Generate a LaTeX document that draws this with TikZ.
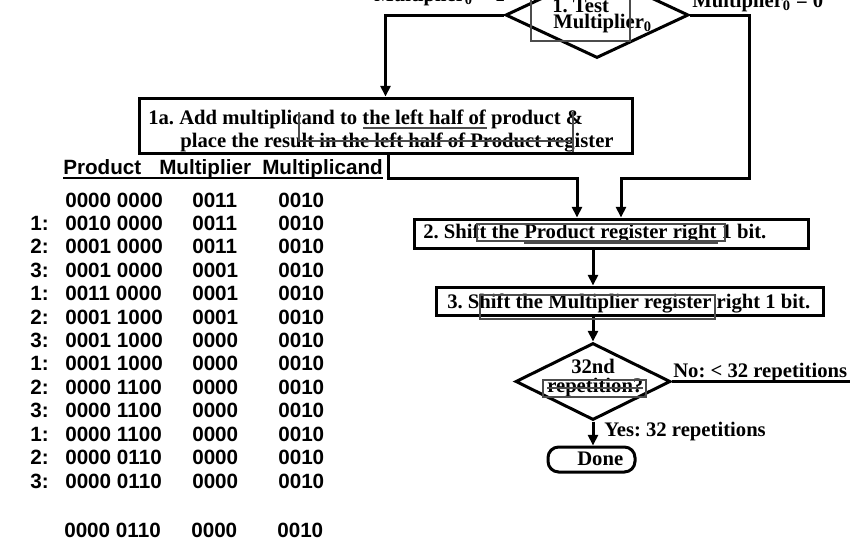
\documentclass[tikz,border=0pt]{standalone}
\usepackage{fontspec}
\setmainfont{Liberation Serif}
\setsansfont{Liberation Sans}
\usetikzlibrary{shapes.geometric,arrows.meta,calc}
\newdimen\pxu \pxu=0.75pt
\frenchspacing

\begin{document}
\begin{tikzpicture}[x=0.75pt,y=-0.75pt,
  flow/.style={line width=2.25pt},
  arr/.style={flow,-{Triangle[length=8pt,width=7.5pt]}},
  stepbox/.style={draw,line width=2.25pt,inner sep=0pt},
  decision/.style={draw,diamond,line width=2.25pt,inner sep=0pt},
  lbl/.style={font=\fontsize{15.5}{18}\selectfont\bfseries,inner sep=0pt,anchor=base west},
  tbl/.style={font=\fontsize{15.5}{18}\selectfont\sffamily\bfseries,inner sep=0pt,anchor=base west},
  ghost/.style={line width=0.8pt,black!70}
]
\useasboundingbox (0,0) rectangle (850,540);
\clip (0,0) rectangle (850,540);

% ---- step 1: test ----
\node[decision,minimum width=183\pxu,minimum height=86\pxu] (test) at (597,15) {};
\node[lbl] (testa) at (552,12) {1. Test};
\node[lbl] (testb) at (553,28) {Multiplier\textsubscript{0}};
\node[lbl] (one) at (374,1) {Multiplier\textsubscript{0} = 1};
\node[lbl] (zero) at (692,7) {Multiplier\textsubscript{0} = 0};

% ---- step 1a ----
\node[stepbox,minimum width=493\pxu,minimum height=55\pxu] (addbox) at (385.5,125.5) {};
\node[lbl] (adda) at (148,124) {1a. Add multiplicand to the left half of product \&};
\node[lbl] (addb) at (180,147) {place the result in the left half of Product register};

% ---- steps 2 and 3 ----
\node[stepbox,minimum width=394\pxu,minimum height=29\pxu] (shiftp) at (611,233.5) {};
\node[lbl] (shiftpt) at (423,238) {2. Shift the Product register right 1 bit.};
\node[stepbox,minimum width=387\pxu,minimum height=28\pxu] (shiftm) at (629.5,301) {};
\node[lbl] (shiftmt) at (447,308) {3. Shift the Multiplier register right 1 bit.};

% ---- repetition test ----
\node[decision,minimum width=155\pxu,minimum height=77\pxu] (rep) at (593,381.5) {};
\node[lbl] (repa) at (571,373) {32nd};
\node[lbl] (repb) at (547,392) {repetition?};
\node[lbl] (no) at (673,377) {No: < 32 repetitions};
\node[lbl] (yes) at (604,436) {Yes: 32 repetitions};

% ---- done ----
\node[stepbox,rounded corners=8pt,minimum width=87\pxu,minimum height=25\pxu] (done) at (591.5,459.5) {};
\node[lbl] (donet) at (577,465) {Done};

% ---- connectors ----
\coordinate (ljoin) at (577,178);
\coordinate (rturn) at (749,178);
\coordinate (rjoin) at (621,178);
\coordinate (noend) at (852,381.5);
\draw[arr] (test.west) -| (addbox.north);
\draw[arr] ($(addbox.south)+(2.5,0)$) |- (ljoin) -- (ljoin |- shiftp.north);
\draw[arr] (test.east) -| (rturn) -- (rjoin) -- (rjoin |- shiftp.north);
\draw[arr] (shiftp.south -| rep.north) -- (shiftm.north -| rep.north);
\draw[arr] (shiftm.south -| rep.north) -- (rep.north);
\draw[flow] (rep.east) -- (noend);
\draw[arr] (rep.south) -- (rep.south |- done.north);

% ---- text frame remnants ----
\draw[ghost] (531,-1) rectangle (630,41);
\draw[ghost] (299,112) -- (299,141) -- (573,141) (573,112) -- (573,152);
\draw[ghost] (363,128) -- (487,128);
\draw[ghost] (477,224) rectangle (725,241) (524,243) -- (718,243);
\draw[ghost] (480,295) rectangle (715,319);
\draw[ghost] (543,380) rectangle (646,397) (547,388) -- (643,388);

% ---- trace table ----
\node[tbl] (hP) at (63,174) {Product};
\node[tbl] (hM) at (159,174) {Multiplier};
\node[tbl] (hC) at (262,174) {Multiplicand};
\draw[line width=1.1pt] ($(hP.base west)+(0,4)$) -- ($(hC.base east)+(0,4)$);

\foreach \i/\p/\m in {0/0000 0000/0011, 1/0010 0000/0011, 2/0001 0000/0011,
  3/0001 0000/0001, 4/0011 0000/0001, 5/0001 1000/0001, 6/0001 1000/0000,
  7/0001 1000/0000, 8/0000 1100/0000, 9/0000 1100/0000, 10/0000 1100/0000,
  11/0000 0110/0000, 12/0000 0110/0000} {
  \pgfmathsetmacro\yy{207+23.42*\i}
  \node[tbl] (p\i) at (65,\yy) {\p};
  \node[tbl] (m\i) at (192,\yy) {\m};
  \node[tbl] (c\i) at (278,\yy) {0010};
}
\foreach \i in {1,...,12} {
  \pgfmathsetmacro\yy{207+23.42*\i}
  \pgfmathtruncatemacro\st{mod(\i-1,3)+1}
  \node[tbl] (s\i) at (30,\yy) {\st:};
}
\node[tbl] (pF) at (64,537) {0000 0110};
\node[tbl] (mF) at (191,537) {0000};
\node[tbl] (cF) at (277,537) {0010};
\end{tikzpicture}
\end{document}
